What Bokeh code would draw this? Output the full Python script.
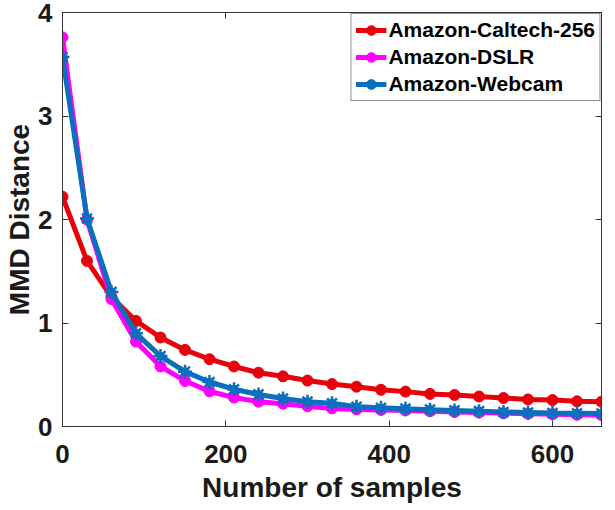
from bokeh.plotting import figure
from bokeh.models import LinearAxis, FixedTicker, Range1d, Legend, LegendItem
from bokeh.embed import file_html
from bokeh.resources import INLINE

# ---- data ----
samples = [0, 30, 60, 90, 120, 150, 180, 210, 240, 270, 300, 330, 360, 390,
           420, 450, 480, 510, 540, 570, 600, 630, 660]
caltech = [2.22, 1.60, 1.25, 1.02, 0.86, 0.74, 0.65, 0.58, 0.52, 0.485, 0.444,
           0.41, 0.385, 0.355, 0.337, 0.315, 0.305, 0.29, 0.275, 0.262, 0.255,
           0.243, 0.24]
dslr = [3.76, 2.00, 1.23, 0.82, 0.58, 0.44, 0.34, 0.28, 0.24, 0.22, 0.195,
        0.175, 0.165, 0.16, 0.155, 0.148, 0.14, 0.135, 0.128, 0.122, 0.118,
        0.114, 0.11]
webcam = [3.57, 2.01, 1.30, 0.90, 0.68, 0.53, 0.43, 0.36, 0.31, 0.27, 0.24,
          0.225, 0.19, 0.18, 0.172, 0.163, 0.155, 0.148, 0.14, 0.135, 0.13,
          0.128, 0.126]
series_names = ["Amazon-Caltech-256", "Amazon-DSLR", "Amazon-Webcam"]
x_ticks = [0, 200, 400, 600]
y_ticks = [0, 1, 2, 3, 4]

FONT = "Liberation Sans"
RED = "#e8000b"
MAG = "#ff00ff"
BLUE = "#0a6fbd"

p = figure(width=607, height=505,
           min_border_left=62, min_border_right=6, min_border_top=12, min_border_bottom=79,
           x_range=Range1d(0, 660), y_range=Range1d(0, 4),
           output_backend="svg", toolbar_location=None)
p.xgrid.visible = False
p.ygrid.visible = False
p.outline_line_color = "#333333"
p.outline_line_width = 1

for ax in (p.xaxis[0], p.yaxis[0]):
    ax.major_label_text_font = FONT
    ax.major_label_text_font_style = "bold"
    ax.major_label_text_font_size = "26px"
    ax.major_label_text_color = "#1a1a1a"
    ax.axis_label_text_font = FONT
    ax.axis_label_text_font_style = "bold"
    ax.axis_label_text_font_size = "28px"
    ax.axis_label_text_color = "#1a1a1a"
    ax.major_tick_in = 6
    ax.major_tick_out = 0
    ax.minor_tick_in = 0
    ax.minor_tick_out = 0
    ax.axis_line_color = "#333333"
    ax.major_tick_line_color = "#333333"

p.xaxis[0].ticker = FixedTicker(ticks=x_ticks)
p.yaxis[0].ticker = FixedTicker(ticks=y_ticks)
p.xaxis[0].axis_label = "Number of samples"
p.yaxis[0].axis_label = "MMD Distance"
p.xaxis[0].major_label_standoff = 18
p.yaxis[0].major_label_standoff = 10
p.xaxis[0].axis_label_standoff = 6
p.yaxis[0].axis_label_standoff = 0

# top & right tick-only axes (labels not painted)
for loc, tick in (("above", x_ticks), ("right", y_ticks)):
    a = LinearAxis(ticker=FixedTicker(ticks=tick))
    a.major_label_text_font_size = "1px"
    a.major_label_text_color = None
    a.major_label_standoff = 0
    a.axis_label_standoff = 0
    a.major_tick_in = 6
    a.major_tick_out = 0
    a.minor_tick_in = 0
    a.minor_tick_out = 0
    a.axis_line_color = "#333333"
    a.major_tick_line_color = "#333333"
    p.add_layout(a, loc)

r1 = p.line(samples, caltech, line_color=RED, line_width=5)
m1 = p.scatter(samples, caltech, marker="circle", size=11, fill_color=RED, line_color=RED)
r2 = p.line(samples, dslr, line_color=MAG, line_width=5)
m2 = p.scatter(samples, dslr, marker="circle", size=11, fill_color=MAG, line_color=MAG)
r3 = p.line(samples, webcam, line_color=BLUE, line_width=5)
m3 = p.scatter(samples, webcam, marker="circle", size=8, fill_color=BLUE, line_color=BLUE)
m3b = p.scatter(samples, webcam, marker="asterisk", size=14, line_color=BLUE, line_width=2.5)

items = [LegendItem(label=series_names[0], renderers=[r1, m1]),
         LegendItem(label=series_names[1], renderers=[r2, m2]),
         LegendItem(label=series_names[2], renderers=[r3, m3, m3b])]
legend = Legend(items=items, location="top_right")
legend.margin = 1
legend.padding = 4
legend.spacing = 3
legend.glyph_width = 31
legend.glyph_height = 24
legend.label_height = 24
legend.label_standoff = 2
legend.label_text_font = FONT
legend.label_text_font_style = "bold"
legend.label_text_font_size = "21px"
legend.label_text_color = "#000000"
legend.border_line_color = "#222222"
legend.border_line_width = 1
legend.background_fill_alpha = 1
p.add_layout(legend, "center")

open("out.html", "w").write(file_html(p, INLINE))
